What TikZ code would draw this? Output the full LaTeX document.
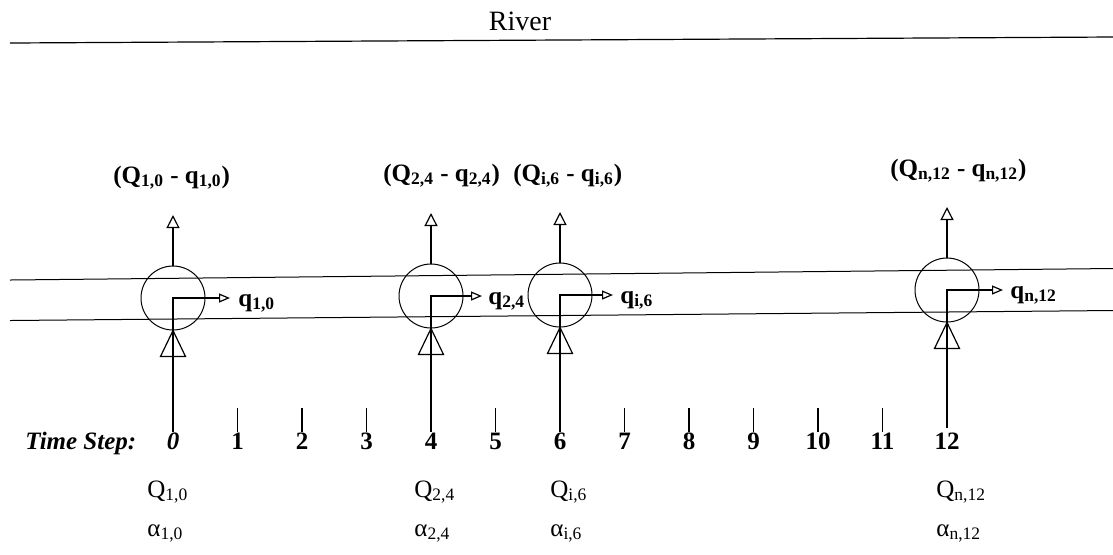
\documentclass[tikz,border=0pt]{standalone}
\usepackage{fontspec}
\setmainfont{Liberation Serif}
\usetikzlibrary{arrows.meta,positioning}

\begin{document}
\begin{tikzpicture}[
  x=0.5pt, y=-0.5pt,
  every node/.style={font=\fontsize{12.5}{15}\selectfont, inner sep=0pt},
  pozo/.style={circle, draw=black, line width=0.5pt, minimum size=32pt},
  salida/.style={line width=0.6pt, -{Triangle[open, length=6.5pt, width=6.5pt]}},
  desvio/.style={line width=0.6pt, -{Triangle[open, length=5.5pt, width=4.5pt]}},
  entrada/.style={line width=0.6pt},
  etiq/.style={anchor=base west},
  paso/.style={anchor=base}
]
  \useasboundingbox (0,0) rectangle (1113,554);

  % Río y su orilla superior
  \node[font=\fontsize{14}{16}\selectfont] (rio) at (520,21) {River};
  \coordinate (r1) at (10,43);
  \coordinate (r2) at (1113,37);
  \draw[line width=0.6pt] (r1) -- (r2);

  % Cauce (dos líneas casi horizontales)
  \coordinate (a1) at (10,280);
  \coordinate (a2) at (1113,268.5);
  \coordinate (d1) at (10,320.5);
  \coordinate (d2) at (1113,310.5);
  \draw[line width=0.5pt] (a1) -- (a2);
  \draw[line width=0.5pt] (d1) -- (d2);

  % Estación en el paso 0
  \node[pozo] (c0) at (173,298) {};
  \coordinate (t0) at (173,215);
  \coordinate (b0) at (173,432);
  \coordinate (o0) at (230,298);
  \draw[salida] (c0.north) -- (t0);
  \draw[desvio] (b0) |- (o0);
  \draw[entrada] (c0.south) -- ++(-12.5,26) -- ++(25,0) -- cycle;
  \node[etiq] (q0) at (238,306) {\textbf{q\textsubscript{1,0}}};
  \node[etiq] (s0) at (113,183) {\textbf{(Q\textsubscript{1,0} - q\textsubscript{1,0})}};
  \node[etiq] (Q0) at (147,497) {Q\textsubscript{1,0}};
  \node[etiq] (A0) at (147,536) {α\textsubscript{1,0}};

  % Estación en el paso 4
  \node[pozo] (c4) at (431,296) {};
  \coordinate (t4) at (431,213);
  \coordinate (b4) at (431,432);
  \coordinate (o4) at (482,296);
  \draw[salida] (c4.north) -- (t4);
  \draw[desvio] (b4) |- (o4);
  \draw[entrada] (c4.south) -- ++(-12.5,26) -- ++(25,0) -- cycle;
  \node[etiq] (q4) at (488,304) {\textbf{q\textsubscript{2,4}}};
  \node[etiq] (s4) at (383,181) {\textbf{(Q\textsubscript{2,4} - q\textsubscript{2,4})}};
  \node[etiq] (Q4) at (414,497) {Q\textsubscript{2,4}};
  \node[etiq] (A4) at (414,536) {α\textsubscript{2,4}};

  % Estación en el paso 6
  \node[pozo] (c6) at (560,295) {};
  \coordinate (t6) at (560,212);
  \coordinate (b6) at (560,432);
  \coordinate (o6) at (613,295);
  \draw[salida] (c6.north) -- (t6);
  \draw[desvio] (b6) |- (o6);
  \draw[entrada] (c6.south) -- ++(-12.5,26) -- ++(25,0) -- cycle;
  \node[etiq] (q6) at (620,303) {\textbf{q\textsubscript{i,6}}};
  \node[etiq] (s6) at (513,181) {\textbf{(Q\textsubscript{i,6} - q\textsubscript{i,6})}};
  \node[etiq] (Q6) at (550,497) {Q\textsubscript{i,6}};
  \node[etiq] (A6) at (550,536) {α\textsubscript{i,6}};

  % Estación en el paso 12
  \node[pozo] (c12) at (947,290) {};
  \coordinate (t12) at (947,207);
  \coordinate (b12) at (947,428);
  \coordinate (o12) at (1003,290);
  \draw[salida] (c12.north) -- (t12);
  \draw[desvio] (b12) |- (o12);
  \draw[entrada] (c12.south) -- ++(-12.5,26) -- ++(25,0) -- cycle;
  \node[etiq] (q12) at (1010,298) {\textbf{q\textsubscript{n,12}}};
  \node[etiq] (s12) at (890,176) {\textbf{(Q\textsubscript{n,12} - q\textsubscript{n,12})}};
  \node[etiq] (Q12) at (936,497) {Q\textsubscript{n,12}};
  \node[etiq] (A12) at (936,536) {α\textsubscript{n,12}};

  % Marcas de los pasos de tiempo
  \foreach \k in {1,2,3,5,7,8,9,10,11}
    \draw[line width=0.6pt] ({173+64.5*\k},408) -- ({173+64.5*\k},432);

  % Rótulos de los pasos de tiempo
  \node[etiq] (ts) at (25,449) {\textbf{\textit{Time Step:}}};
  \node[paso] (n0) at (173,449) {\textbf{\textit{0}}};
  \foreach \k in {1,...,12}
    \node[paso] (n\k) at ({173+64.5*\k},449) {\textbf{\k}};

\end{tikzpicture}
\end{document}
